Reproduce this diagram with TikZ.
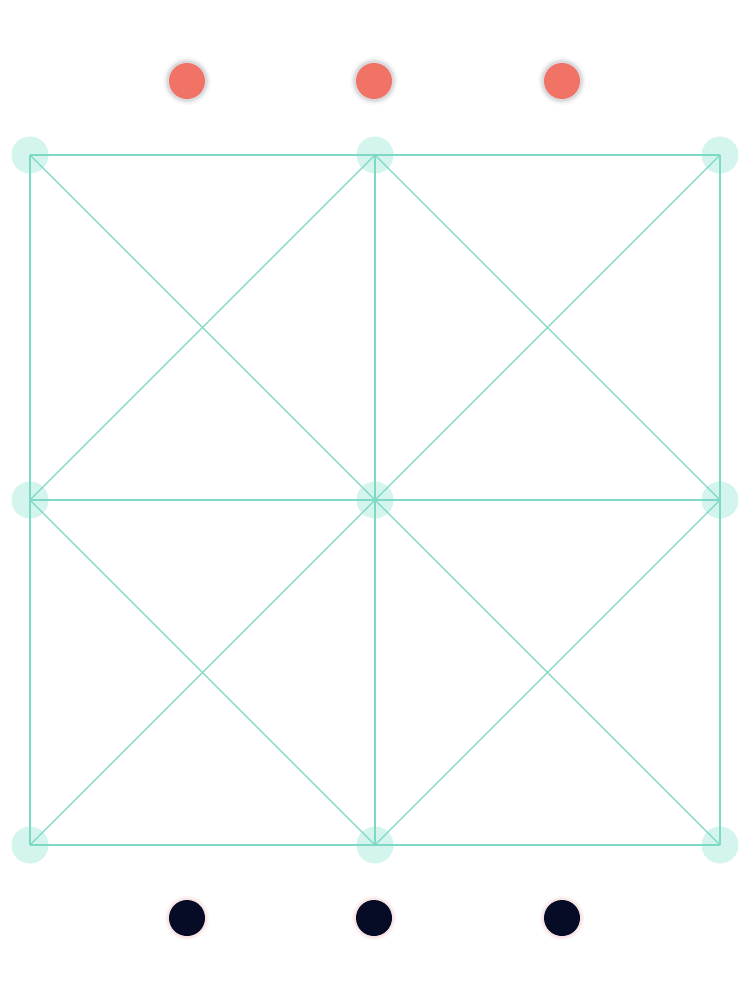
\documentclass[tikz,border=0pt]{standalone}
\definecolor{edgec}{HTML}{7ED8C6}
\definecolor{vtx}{HTML}{D4F4EE}
\definecolor{redc}{HTML}{F07366}
\definecolor{darkc}{HTML}{060B26}
\definecolor{shad}{HTML}{8A8A9A}
\definecolor{halo}{HTML}{F6D6D6}
\tikzset{
  vnode/.style={circle,fill=vtx,minimum size=37pt,inner sep=0pt},
  edge/.style={draw=edgec,line width=1.1pt},
  reddot/.style={circle,fill=redc,minimum size=36pt,inner sep=0pt},
  darkdot/.style={circle,fill=darkc,minimum size=36pt,inner sep=0pt}
}
\begin{document}
\begin{tikzpicture}[x=1pt,y=-1pt]
\useasboundingbox[fill=white] (0,0) rectangle (750,1000);
% grid vertices
\foreach \i/\x in {0/30,1/375,2/720}{
  \foreach \j/\y in {0/155,1/500,2/845}{
    \node[vnode] (v\i\j) at (\x,\y) {};
  }
}
% edges
\foreach \a/\b in {00/10,10/20,01/11,11/21,02/12,12/22,
                   00/01,01/02,10/11,11/12,20/21,21/22,
                   00/11,11/22,20/11,11/02,
                   10/01,10/21,01/12,21/12}{
  \draw[edge] (v\a.center) -- (v\b.center);
}
% top red dots with soft shadow
\foreach \k/\x in {1/187,2/374,3/562}{
  \foreach \r/\o in {24/0.06,22/0.10,20.5/0.18}{
    \fill[shad,opacity=\o] (\x,81) circle (\r);
  }
  \node[reddot] (r\k) at (\x,81) {};
}
% bottom dark dots with faint halo
\foreach \k/\x in {1/187,2/374,3/562}{
  \foreach \r/\o in {22/0.25,20/0.5}{
    \fill[halo,opacity=\o] (\x,918) circle (\r);
  }
  \node[darkdot] (d\k) at (\x,918) {};
}
\end{tikzpicture}
\end{document}
